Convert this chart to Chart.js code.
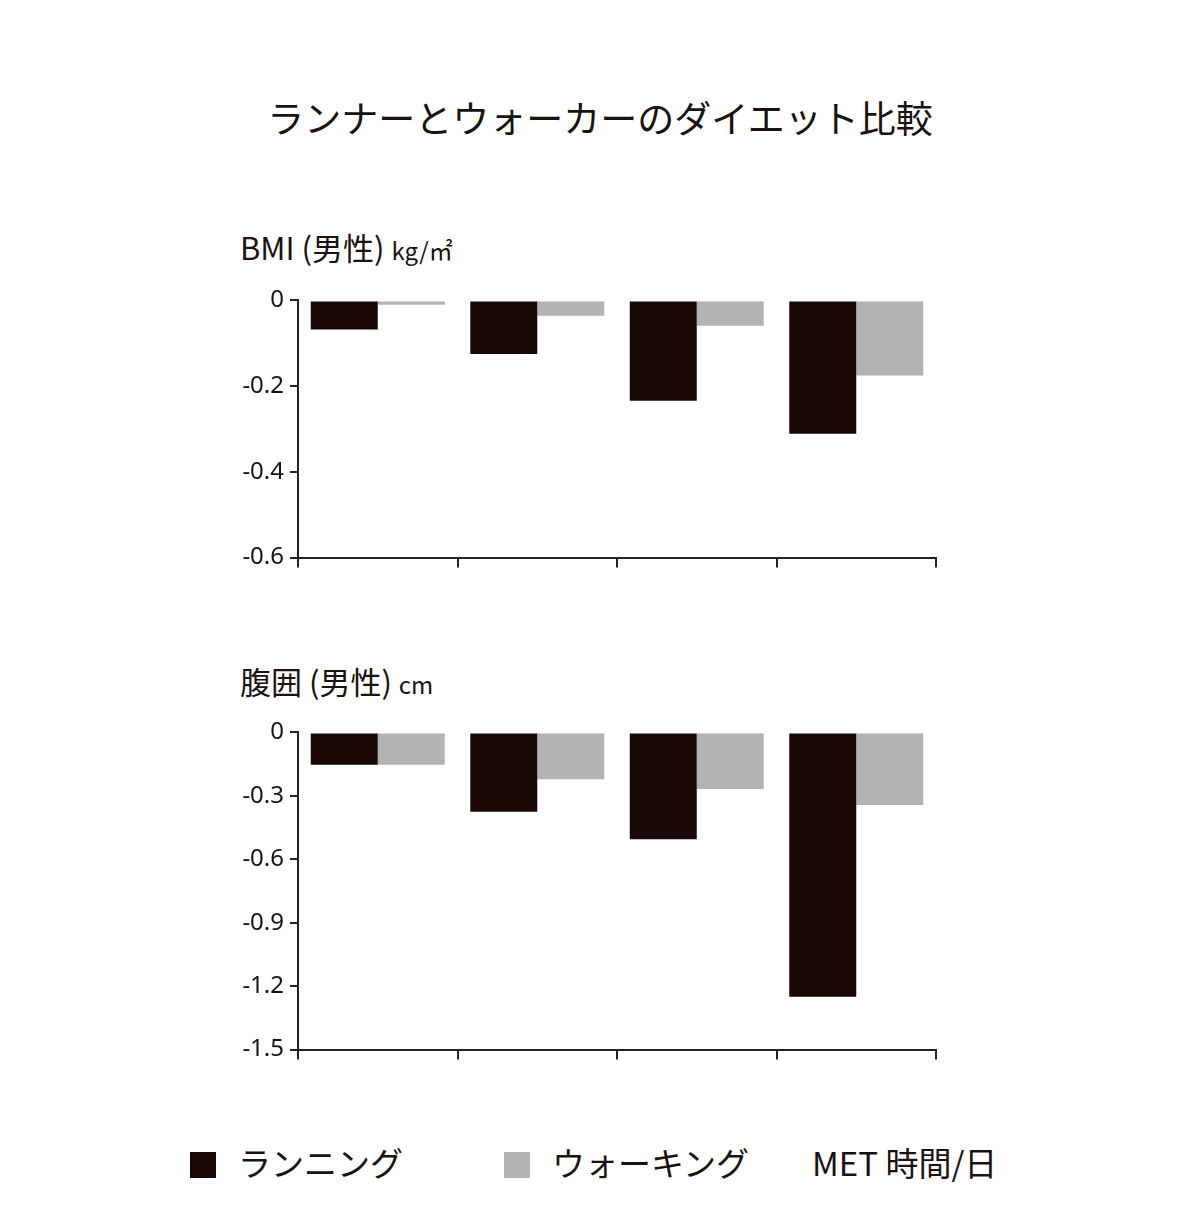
<!DOCTYPE html>
<html lang="ja">
<head>
<meta charset="UTF-8">
<title>ランナーとウォーカーのダイエット比較</title>
<script src="https://cdn.jsdelivr.net/npm/chart.js"></script>
<style>
  body { margin: 0; width: 1200px; height: 1230px; position: relative; background: #fff;
         font-family: "Noto Sans CJK JP", "Noto Sans", sans-serif; color: #1a1111; }
  .t { position: absolute; white-space: nowrap; }
  .box { position: absolute; }
  .sw { display: inline-block; width: 26px; height: 26px; vertical-align: -2px; margin-right: 22px; }
</style>
</head>
<body>
<div class="t" style="left:0;width:1200px;text-align:center;top:90px;font-size:37px;">ランナーとウォーカーのダイエット比較</div>
<div class="t" style="left:240px;top:224px;font-size:31px;">BMI (男性) <span style="font-size:24px">kg/㎡</span></div>
<div class="t" style="left:240px;top:658px;font-size:31px;">腹囲 (男性) <span style="font-size:24px">cm</span></div>
<div class="box" style="left:200px;top:280px;width:740px;height:298px;"><canvas id="bmi"></canvas></div>
<div class="box" style="left:200px;top:712px;width:740px;height:358px;"><canvas id="waist"></canvas></div>
<div class="t" style="left:190px;top:1138px;font-size:33px;"><span class="sw" style="background:#1a0806"></span>ランニング</div>
<div class="t" style="left:504px;top:1138px;font-size:33px;"><span class="sw" style="background:#b3b3b3"></span>ウォーキング</div>
<div class="t" style="left:812px;top:1138px;font-size:33px;">MET 時間/日</div>
<script>
  const categories = ['1', '2', '3', '4'];
  const bmiRunning = [-0.068, -0.125, -0.234, -0.311];
  const bmiWalking = [-0.01, -0.036, -0.059, -0.175];
  const waistRunning = [-0.153, -0.375, -0.505, -1.25];
  const waistWalking = [-0.153, -0.222, -0.268, -0.343];
  const bmiTicks = [0, -0.2, -0.4, -0.6];
  const waistTicks = [0, -0.3, -0.6, -0.9, -1.2, -1.5];

  function makeChart(id, run, walk, ticks, min) {
    new Chart(document.getElementById(id), {
      type: 'bar',
      data: {
        labels: categories,
        datasets: [
          { data: run, backgroundColor: '#1a0806', barPercentage: 1, categoryPercentage: 0.84 },
          { data: walk, backgroundColor: '#b3b3b3', barPercentage: 1, categoryPercentage: 0.84 }
        ]
      },
      options: {
        responsive: true, maintainAspectRatio: false, animation: false,
        layout: { padding: { top: 14, right: 4 } },
        plugins: { legend: { display: false }, tooltip: { enabled: false } },
        scales: {
          x: {
            grid: { drawOnChartArea: false, tickLength: 10, color: '#222', lineWidth: 2 },
            border: { color: '#222', width: 2 },
            ticks: { display: false },
            afterFit: s => { s.height = 20; }
          },
          y: {
            min: min, max: 0, reverse: false,
            afterBuildTicks: s => { s.ticks = ticks.map(v => ({ value: v })); },
            grid: { drawOnChartArea: false, tickLength: 8, color: '#222', lineWidth: 2 },
            border: { color: '#222', width: 2 },
            ticks: { color: '#1a1111', font: { size: 24, family: 'Noto Sans' }, padding: 6,
                     callback: v => String(Math.round(v * 10) / 10) },
            afterFit: s => { s.width = 98; }
          }
        }
      }
    });
  }
  makeChart('bmi', bmiRunning, bmiWalking, bmiTicks, -0.6);
  makeChart('waist', waistRunning, waistWalking, waistTicks, -1.5);
</script>
</body>
</html>
